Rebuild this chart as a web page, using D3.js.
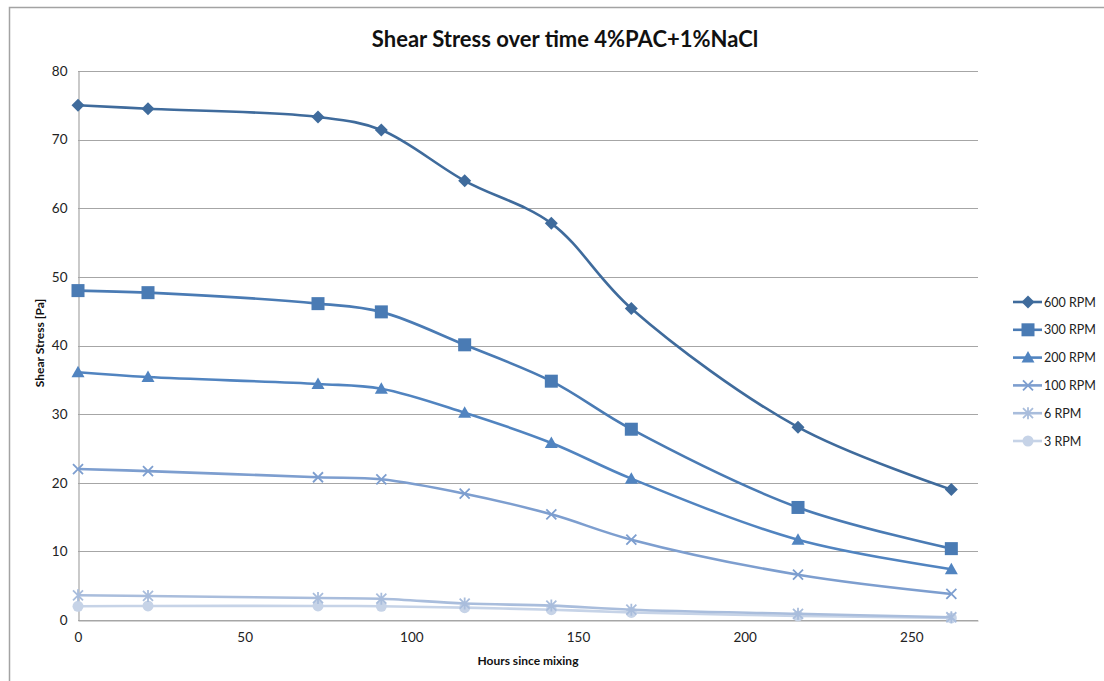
<!DOCTYPE html>
<html>
<head>
<meta charset="utf-8">
<script src="https://cdn.jsdelivr.net/npm/d3@7"></script>
<style>
  html, body { margin: 0; padding: 0; background: #fff; }
  svg { display: block; font-family: Lato, "Open Sans", "Liberation Sans", sans-serif; }
</style>
</head>
<body>
<svg id="chart" width="1104" height="681"></svg>
<script>
// Hours since mixing at which each measurement was taken
const hours = [0, 21, 72, 91, 116, 142, 166, 216, 262];

// Shear stress [Pa] per rotor speed
const rpm600 = [75.0, 74.5, 73.3, 71.4, 64.0, 57.8, 45.4, 28.1, 19.0];
const rpm300 = [48.0, 47.7, 46.1, 44.9, 40.1, 34.8, 27.8, 16.4, 10.4];
const rpm200 = [36.1, 35.4, 34.4, 33.7, 30.2, 25.8, 20.6, 11.7, 7.4];
const rpm100 = [22.0, 21.7, 20.8, 20.5, 18.4, 15.4, 11.7, 6.6, 3.8];
const rpm6   = [3.6, 3.5, 3.2, 3.1, 2.4, 2.1, 1.5, 0.9, 0.4];
const rpm3   = [2.0, 2.05, 2.05, 2.0, 1.8, 1.5, 1.1, 0.6, 0.3];

const seriesNames = ["600 RPM", "300 RPM", "200 RPM", "100 RPM", "6 RPM", "3 RPM"];
const seriesValues = [rpm600, rpm300, rpm200, rpm100, rpm6, rpm3];
const seriesColors = ["#3f6b9c", "#4a7bb4", "#5184c0", "#7d9ecf", "#a9bddc", "#c6d3e7"];
const seriesMarkers = ["diamond", "square", "triangle", "cross", "asterisk", "circle"];

const xTicks = [0, 50, 100, 150, 200, 250];
const yTicks = [0, 10, 20, 30, 40, 50, 60, 70, 80];

const svg = d3.select("#chart");

// Outer chart frame
svg.append("path")
  .attr("d", "M9.5,681 L9.5,7.5 L1104,7.5")
  .attr("fill", "none")
  .attr("stroke", "#a3a3a3")
  .attr("stroke-width", 1.5);

const plot = { left: 78, right: 978, top: 71, bottom: 620 };

const x = d3.scaleLinear().domain([0, 270]).range([plot.left, plot.right]);
const y = d3.scaleLinear().domain([0, 80]).range([plot.bottom, plot.top]);

// Horizontal gridlines
svg.append("g")
  .selectAll("line")
  .data(yTicks)
  .join("line")
  .attr("x1", plot.left)
  .attr("x2", plot.right)
  .attr("y1", d => Math.round(y(d)) + 0.5)
  .attr("y2", d => Math.round(y(d)) + 0.5)
  .attr("stroke", "#a6a6a6")
  .attr("stroke-width", 1.2);

// Axes
const yAxis = svg.append("g")
  .attr("transform", `translate(${plot.left + 0.5},0)`)
  .call(d3.axisLeft(y).tickValues(yTicks).tickSize(0).tickPadding(11));
const xAxis = svg.append("g")
  .attr("transform", `translate(0,${plot.bottom + 0.5})`)
  .call(d3.axisBottom(x).tickValues(xTicks).tickSize(0).tickPadding(12));

[yAxis, xAxis].forEach(g => {
  g.select(".domain").attr("stroke", "#a6a6a6").attr("stroke-width", 1.2);
  g.selectAll("text")
    .attr("fill", "#222")
    .style("font-size", "13.5px")
    .style("font-family", "Lato, 'Open Sans', sans-serif");
});

// Title and axis titles
svg.append("text")
  .attr("x", 565)
  .attr("y", 47)
  .attr("text-anchor", "middle")
  .style("font-size", "22px")
  .style("font-weight", "bold")
  .attr("fill", "#111")
  .text("Shear Stress over time 4%PAC+1%NaCl");

svg.append("text")
  .attr("transform", "translate(44,343) rotate(-90)")
  .attr("text-anchor", "middle")
  .style("font-size", "12px")
  .style("font-weight", "bold")
  .attr("fill", "#111")
  .text("Shear Stress [Pa]");

svg.append("text")
  .attr("x", 528)
  .attr("y", 665)
  .attr("text-anchor", "middle")
  .style("font-size", "12px")
  .style("font-weight", "bold")
  .attr("fill", "#111")
  .text("Hours since mixing");

// Marker drawing
function drawMarker(g, type, color, cx, cy) {
  if (type === "diamond") {
    g.append("path")
      .attr("d", `M${cx},${cy - 6.5} L${cx + 6.5},${cy} L${cx},${cy + 6.5} L${cx - 6.5},${cy} Z`)
      .attr("fill", color);
  } else if (type === "square") {
    g.append("rect")
      .attr("x", cx - 6.5).attr("y", cy - 6.5)
      .attr("width", 13).attr("height", 13)
      .attr("fill", color);
  } else if (type === "triangle") {
    g.append("path")
      .attr("d", `M${cx},${cy - 6.5} L${cx + 6.5},${cy + 5} L${cx - 6.5},${cy + 5} Z`)
      .attr("fill", color);
  } else if (type === "cross") {
    g.append("path")
      .attr("d", `M${cx - 5},${cy - 5} L${cx + 5},${cy + 5} M${cx - 5},${cy + 5} L${cx + 5},${cy - 5}`)
      .attr("stroke", color).attr("stroke-width", 1.8).attr("fill", "none");
  } else if (type === "asterisk") {
    g.append("path")
      .attr("d", `M${cx - 5},${cy - 5} L${cx + 5},${cy + 5} M${cx - 5},${cy + 5} L${cx + 5},${cy - 5} M${cx},${cy - 6} L${cx},${cy + 6}`)
      .attr("stroke", color).attr("stroke-width", 1.8).attr("fill", "none");
  } else if (type === "circle") {
    g.append("circle")
      .attr("cx", cx).attr("cy", cy).attr("r", 5.5)
      .attr("fill", color);
  }
}

const line = d3.line()
  .x(d => x(d[0]))
  .y(d => y(d[1]))
  .curve(d3.curveCatmullRom.alpha(0.5));

// Series lines, drawn from the lightest to the darkest so darker lines sit on top
const order = d3.range(seriesNames.length).reverse();
order.forEach(i => {
  const pts = hours.map((h, j) => [h, seriesValues[i][j]]);
  const g = svg.append("g");
  g.append("path")
    .datum(pts)
    .attr("d", line)
    .attr("fill", "none")
    .attr("stroke", seriesColors[i])
    .attr("stroke-width", 2.6);
  pts.forEach(p => drawMarker(g, seriesMarkers[i], seriesColors[i], x(p[0]), y(p[1])));
});

// Legend
const legend = svg.append("g");
seriesNames.forEach((name, i) => {
  const ly = 302 + i * 27.8;
  legend.append("line")
    .attr("x1", 1013).attr("x2", 1042)
    .attr("y1", ly).attr("y2", ly)
    .attr("stroke", seriesColors[i])
    .attr("stroke-width", 2.6);
  drawMarker(legend, seriesMarkers[i], seriesColors[i], 1028, ly);
  legend.append("text")
    .attr("x", 1044)
    .attr("y", ly + 4.5)
    .style("font-size", "12.5px")
    .attr("fill", "#222")
    .text(name);
});
</script>
</body>
</html>
